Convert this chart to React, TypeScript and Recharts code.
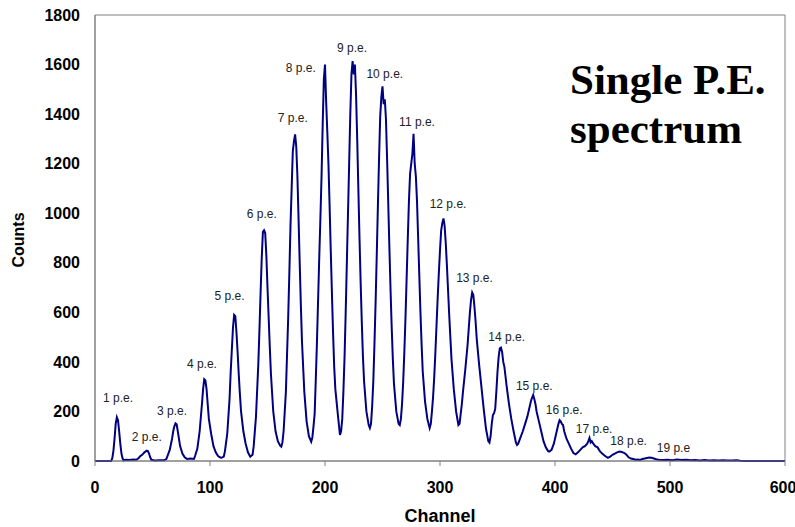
import {
  ComposedChart,
  Line,
  Scatter,
  XAxis,
  YAxis,
  ReferenceArea,
} from 'recharts'

// channel / counts
const channel = [
  0, 12, 14, 15, 16, 17, 18, 19, 20, 21, 22, 23, 24, 25, 27, 30, 33, 36, 38,
  39, 41, 43, 45, 46, 47, 48, 49, 52, 56, 60, 62,
  63, 65, 67, 68, 69, 70, 71, 72, 73, 74, 76, 78, 80, 83, 86,
  87, 89, 91, 93, 94, 95, 96, 97, 98, 99, 101, 103, 105, 107, 109, 110, 112,
  113, 115, 117, 118, 119, 120, 121, 122, 123, 124, 125, 126, 127, 129, 131, 133, 135, 137,
  138, 140, 142, 143, 144, 145, 146, 147, 148, 149, 150, 151, 152, 153, 155, 157, 159, 161, 162, 163,
  164, 166, 168, 169, 170, 171, 172, 173, 174, 175, 176, 177, 178, 179, 180, 182, 184, 186, 188, 189,
  190, 191, 192, 193, 194, 195, 196, 197, 198, 199, 200, 201, 202, 203, 204, 205, 206, 207, 208, 209, 211, 213, 214,
  215, 216, 217, 218, 219, 220, 221, 222, 223, 224, 225, 226, 227, 228, 229, 230, 231, 232, 233, 234, 236, 238, 239, 240,
  241, 242, 243, 244, 245, 246, 247, 248, 249, 250, 251, 252, 253, 254, 255, 256, 257, 258, 259, 260, 262, 264, 265, 266,
  267, 268, 269, 270, 271, 272, 273, 274, 275, 276, 277, 278, 279, 280, 281, 282, 283, 284, 285, 287, 289, 291, 292,
  293, 294, 295, 296, 297, 298, 299, 300, 301, 302, 303, 304, 305, 306, 307, 308, 309, 310, 312, 314, 316, 317,
  318, 319, 320, 322, 324, 326, 327, 328, 329, 330, 331, 332, 334, 336, 338, 340, 342, 343, 344,
  345, 346, 347, 348, 349, 350, 351, 352, 353, 354, 355, 356, 357, 358, 360, 362, 364, 366, 367, 368,
  370, 372, 374, 376, 377, 378, 379, 380, 381, 382, 383, 384, 386, 388, 390, 392, 394, 395, 397,
  399, 401, 403, 404, 405, 406, 407, 408, 410, 412, 414, 416, 418, 420,
  422, 424, 426, 428, 429, 430, 431, 432, 433, 435, 437, 439, 441, 443, 446,
  448, 450, 452, 454, 456, 458, 460, 462, 464, 466, 468, 470, 472, 474,
  476, 478, 480, 482, 484, 486, 488, 490, 494, 498, 502, 506, 510, 514, 518, 522, 526, 530,
  534, 538, 542, 546, 550, 554, 558, 561, 565, 600,
]

const counts = [
  0, 0, 0, 10, 40, 90, 150, 177, 165, 120, 70, 30, 10, 3, 5, 4, 6, 5, 12,
  18, 25, 35, 42, 40, 30, 15, 5, 2, 3, 3, 8,
  20, 45, 90, 120, 140, 152, 148, 120, 90, 60, 30, 15, 8, 10, 8,
  20, 50, 120, 230, 290, 330, 325, 290, 230, 170, 110, 60, 35, 20, 14, 13, 18,
  40, 110, 250, 360, 450, 540, 590, 585, 520, 440, 350, 270, 200, 120, 70, 35, 17, 25,
  60, 180, 390, 530, 680, 820, 925, 931, 920, 830, 700, 580, 460, 350, 200, 120, 80, 62, 58, 75,
  120, 280, 580, 760, 950, 1100, 1250, 1290, 1318, 1270, 1150, 980, 800, 630, 480, 280, 160, 100, 78, 95,
  140, 190, 330, 480, 650, 820, 980, 1150, 1360, 1540, 1600, 1450, 1330, 1200, 1030, 850, 680, 520, 380, 290, 195, 105, 120,
  170, 280, 420, 600, 800, 1000, 1200, 1400, 1560, 1614, 1560, 1600, 1480, 1300, 1100, 900, 720, 560, 420, 320, 200, 145, 133, 150,
  220, 320, 470, 640, 830, 1030, 1220, 1390, 1470, 1512, 1440, 1460, 1380, 1220, 1040, 860, 690, 540, 410, 310, 200, 150, 145, 170,
  230, 320, 440, 580, 740, 900, 1050, 1160, 1200, 1240, 1321, 1200, 1150, 1050, 900, 750, 600, 470, 360, 240, 170, 133, 150,
  200, 260, 340, 440, 550, 660, 760, 850, 930, 960, 979, 950, 880, 790, 690, 590, 500, 410, 290, 200, 145, 150,
  190, 230, 280, 370, 470, 600, 650, 680, 670, 620, 560, 490, 390, 300, 210, 130, 80, 74, 100,
  150, 185, 193, 210, 280, 360, 420, 455, 458, 440, 400, 380, 340, 300, 230, 170, 120, 75, 65, 70,
  95, 120, 150, 180, 200, 220, 240, 255, 266, 250, 230, 200, 160, 120, 80, 55, 40, 38, 45,
  70, 110, 150, 165, 160, 150, 145, 120, 90, 70, 50, 32, 27, 35,
  45, 55, 60, 70, 80, 93, 75, 80, 72, 60, 55, 40, 30, 22, 13,
  18, 25, 30, 35, 38, 36, 33, 26, 15, 10, 8, 5, 6, 4,
  8, 10, 12, 14, 13, 10, 7, 5, 4, 5, 3, 6, 4, 5, 3, 4, 2, 4,
  2, 3, 2, 3, 2, 2, 3, 1, 0, 0,
]

const peakNames = [
  '1 p.e.', '2 p.e.', '3 p.e.', '4 p.e.', '5 p.e.', '6 p.e.', '7 p.e.',
  '8 p.e.', '9 p.e.', '10 p.e.', '11 p.e.', '12 p.e.', '13 p.e.', '14 p.e.',
  '15 p.e.', '16 p.e.', '17 p.e.', '18 p.e.', '19 p.e',
]
const nameChannel = [20, 45, 67, 93, 117, 145, 172, 179, 223.5, 252, 280, 307, 330, 358, 382, 408, 434, 464, 503]
const nameCount = [254, 97, 202, 391, 665, 996, 1383, 1585, 1665, 1560, 1367, 1036, 738, 500, 302, 206, 129, 81, 52]

const xTicks = [0, 100, 200, 300, 400, 500, 600]
const yTicks = [0, 200, 400, 600, 800, 1000, 1200, 1400, 1600, 1800]

const spectrum = channel.map((x, i) => ({ x, y: counts[i] }))
const peaks = peakNames.map((name, i) => ({ x: nameChannel[i], y: nameCount[i], name }))

const sans = '"Liberation Sans", Arial, sans-serif'
const serif = '"Liberation Serif", "Times New Roman", serif'

function PeakName(props: any) {
  const { cx, cy, payload } = props
  return (
    <text
      x={cx}
      y={cy}
      textAnchor="middle"
      dominantBaseline="central"
      fontFamily={sans}
      fontSize={12}
      fill="#222"
    >
      {payload.name}
    </text>
  )
}

export default function App() {
  return (
    <div style={{ position: 'absolute', left: 0, top: 0, width: 795, height: 527, background: '#fff' }}>
      <ComposedChart
        width={795}
        height={527}
        margin={{ top: 15, right: 10, bottom: 0, left: 35 }}
      >
        <XAxis
          dataKey="x"
          type="number"
          domain={[0, 600]}
          ticks={xTicks}
          allowDataOverflow
          height={66}
          stroke="#808080"
          tickSize={5}
          tickMargin={16}
          tick={{ fill: '#000', fontSize: 16, fontWeight: 'bold', fontFamily: sans }}
        />
        <YAxis
          type="number"
          domain={[0, 1800]}
          ticks={yTicks}
          width={60}
          stroke="#808080"
          tickLine={false}
          tickSize={6}
          tickMargin={9}
          tick={{ fill: '#000', fontSize: 16, fontWeight: 'bold', fontFamily: sans }}
        />
        <ReferenceArea x1={0} x2={600} y1={0} y2={1800} stroke="#808080" fill="none" />
        <Line
          data={spectrum}
          dataKey="y"
          type="linear"
          stroke="#000080"
          strokeWidth={2}
          dot={false}
          isAnimationActive={false}
        />
        <Scatter data={peaks} dataKey="y" shape={PeakName} isAnimationActive={false} />
      </ComposedChart>
      <svg
        width={795}
        height={527}
        style={{ position: 'absolute', left: 0, top: 0, pointerEvents: 'none' }}
      >
        <text
          x={18}
          y={240}
          transform="rotate(-90 18 240)"
          textAnchor="middle"
          dominantBaseline="central"
          fontFamily={sans}
          fontSize={16}
          fontWeight="bold"
        >
          Counts
        </text>
        <text x={440} y={522} textAnchor="middle" fontFamily={sans} fontSize={18} fontWeight="bold">
          Channel
        </text>
        <text x={570} y={94} fontFamily={serif} fontSize={43} fontWeight="bold">
          Single P.E.
        </text>
        <text x={570} y={143} fontFamily={serif} fontSize={43} fontWeight="bold">
          spectrum
        </text>
      </svg>
    </div>
  )
}
